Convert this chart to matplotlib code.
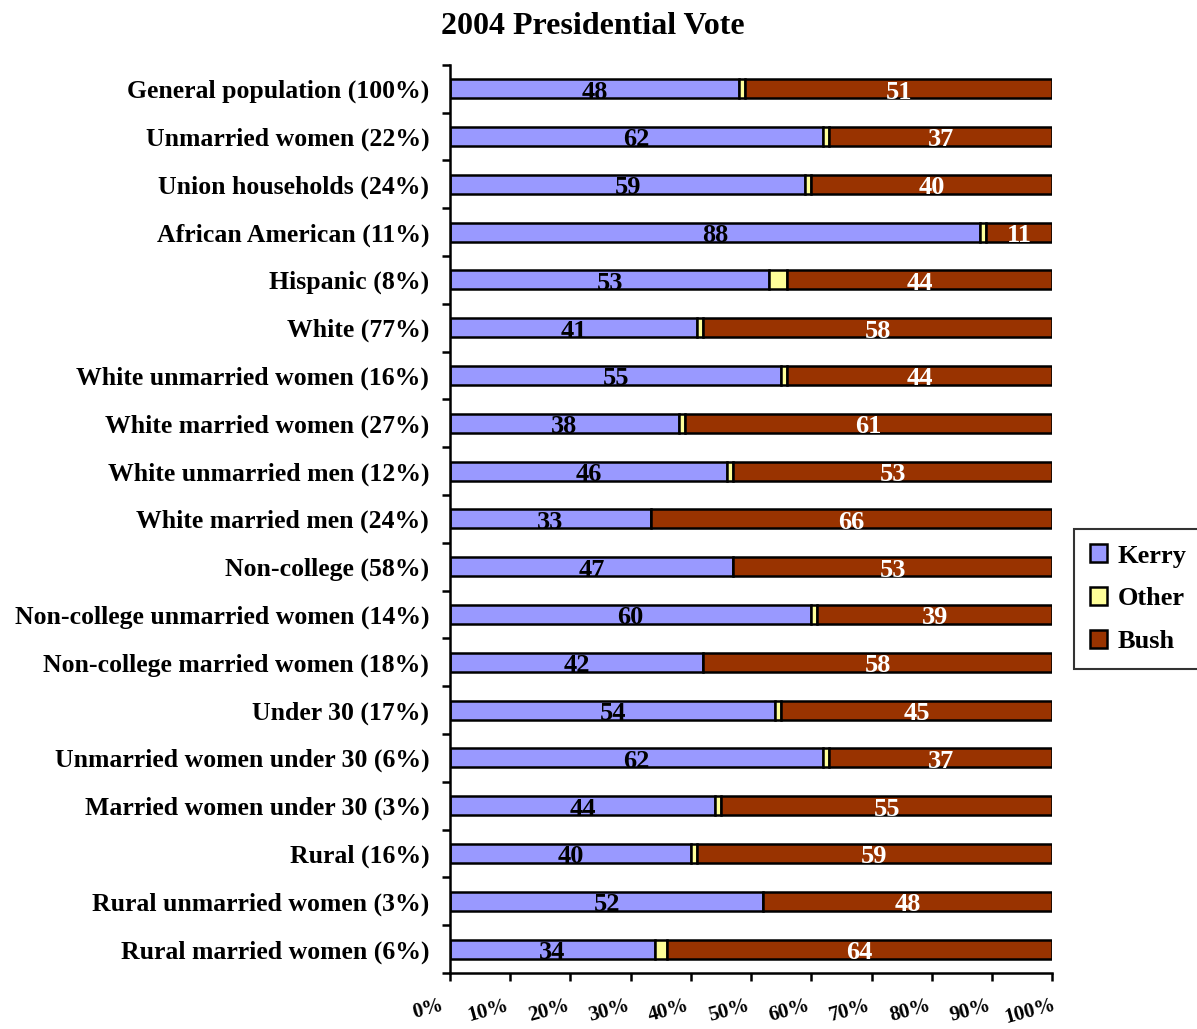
import numpy as np
import matplotlib.pyplot as plt
import matplotlib.transforms as mtransforms

groups = ['General population (100%)', 'Unmarried women (22%)', 'Union households (24%)',
          'African American (11%)', 'Hispanic (8%)', 'White (77%)',
          'White unmarried women (16%)', 'White married women (27%)',
          'White unmarried men (12%)', 'White married men (24%)', 'Non-college (58%)',
          'Non-college unmarried women (14%)', 'Non-college married women (18%)',
          'Under 30 (17%)', 'Unmarried women under 30 (6%)', 'Married women under 30 (3%)',
          'Rural (16%)', 'Rural unmarried women (3%)', 'Rural married women (6%)']
kerry = [48, 62, 59, 88, 53, 41, 55, 38, 46, 33, 47, 60, 42, 54, 62, 44, 40, 52, 34]
other = [1, 1, 1, 1, 3, 1, 1, 1, 1, 0, 0, 1, 0, 1, 1, 1, 1, 0, 2]
bush = [51, 37, 40, 11, 44, 58, 44, 61, 53, 66, 53, 39, 58, 45, 37, 55, 59, 48, 64]

plt.rcParams['font.family'] = ['Liberation Serif', 'DejaVu Serif']
plt.rcParams['font.weight'] = 'bold'

k = np.array(kerry, float)
o = np.array(other, float)
b = np.array(bush, float)
tot = k + o + b
k_pct, o_pct, b_pct = k / tot * 100, o / tot * 100, b / tot * 100

fig = plt.figure(figsize=(11.97, 10.29), dpi=100)
ax = fig.add_axes([0.376, 0.0544, 0.503, 0.8826])

y = np.arange(len(groups))
h = 0.4
bk = ax.barh(y, k_pct, height=h, color='#9999FF', edgecolor='black', linewidth=1.8, label='Kerry')
bo = ax.barh(y, o_pct, left=k_pct, height=h, color='#FFFF99', edgecolor='black', linewidth=1.8, label='Other')
bb = ax.barh(y, b_pct, left=k_pct + o_pct, height=h, color='#993300', edgecolor='black', linewidth=1.8, label='Bush')

# value labels in the middle of the Kerry and Bush segments
for i in range(len(groups)):
    ax.text(k_pct[i] / 2, y[i] + 0.07, str(kerry[i]), ha='center', va='center',
            fontsize=19, fontweight='bold', color='black')
    ax.text(k_pct[i] + o_pct[i] + b_pct[i] / 2, y[i] + 0.07, str(bush[i]), ha='center',
            va='center', fontsize=19, fontweight='bold', color='white')

ax.set_xlim(0, 100)
ax.set_ylim(len(groups) - 0.5, -0.5)
ax.set_xticks(np.arange(0, 101, 10))
ax.set_xticklabels([f'{v}%' for v in range(0, 101, 10)], rotation=15, fontsize=15,
                   fontweight='bold')
ax.tick_params(axis='x', length=6, width=1.8, pad=10)
# percent labels sit a little left of their ticks
shift = mtransforms.ScaledTranslation(-22 / 100, 0, fig.dpi_scale_trans)
for lbl in ax.get_xticklabels():
    lbl.set_transform(lbl.get_transform() + shift)

# category names sit between the tick marks
ax.set_yticks(np.arange(-0.5, len(groups), 1.0))
ax.set_yticklabels([])
ax.set_yticks(y, minor=True)
ax.set_yticklabels(groups, minor=True, fontsize=18.5, fontweight='bold')
ax.tick_params(axis='y', which='major', length=6, width=1.8)
ax.tick_params(axis='y', which='minor', length=0, pad=15)

for s in ['top', 'right']:
    ax.spines[s].set_visible(False)
for s in ['left', 'bottom']:
    ax.spines[s].set_linewidth(1.8)

fig.text(0.495, 0.974, '2004 Presidential Vote', ha='center', va='center',
         fontsize=23, fontweight='bold')

leg = fig.legend(handles=[bk, bo, bb], loc='center', bbox_to_anchor=(0.951, 0.418),
                 fontsize=19, frameon=True, fancybox=False, edgecolor='black',
                 handlelength=0.65, handleheight=0.65, handletextpad=0.4,
                 labelspacing=0.75, borderpad=0.6)
leg.get_frame().set_linewidth(1.5)

fig.savefig('out.png', dpi=100)
